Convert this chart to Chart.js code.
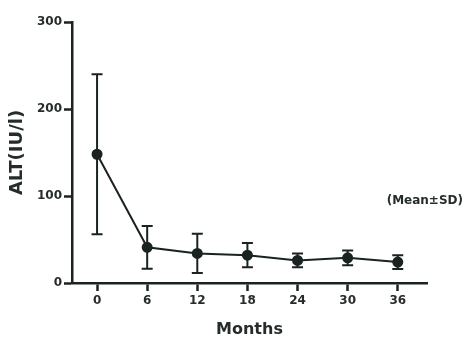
<!DOCTYPE html>
<html>
<head>
<meta charset="utf-8">
<script src="https://cdn.jsdelivr.net/npm/chart.js@4/dist/chart.umd.min.js"></script>
<style>
  html, body { margin: 0; padding: 0; background: #ffffff; }
  #wrap { width: 467px; height: 342px; }
</style>
</head>
<body>
<div id="wrap"><canvas id="c" width="467" height="342"></canvas></div>
<script>
const months = [0, 6, 12, 18, 24, 30, 36];
const altMean = [148, 41, 34, 32, 26, 29, 24];
const altSD = [92, 24.5, 22.5, 14, 8, 8.5, 8];
const xTicks = [0, 6, 12, 18, 24, 30, 36];
const yTicks = [0, 100, 200, 300];
const noteText = '(Mean\u00B1SD)';

const ink = '#1a2222';
const textInk = '#262b2b';

const errorBars = {
  id: 'errorBars',
  beforeDatasetsDraw(chart) {
    const ctx = chart.ctx;
    const xs = chart.scales.x, ys = chart.scales.y;
    ctx.save();
    ctx.strokeStyle = ink;
    ctx.lineWidth = 2;
    months.forEach((m, i) => {
      const px = xs.getPixelForValue(m);
      const top = ys.getPixelForValue(altMean[i] + altSD[i]);
      const bot = ys.getPixelForValue(Math.max(0, altMean[i] - altSD[i]));
      ctx.beginPath();
      ctx.moveTo(px, top); ctx.lineTo(px, bot);
      ctx.moveTo(px - 5.5, top); ctx.lineTo(px + 5.5, top);
      ctx.moveTo(px - 5.5, bot); ctx.lineTo(px + 5.5, bot);
      ctx.stroke();
    });
    ctx.restore();
  },
  afterDraw(chart) {
    const ctx = chart.ctx;
    const ys = chart.scales.y;
    ctx.save();
    ctx.font = 'bold 12px "DejaVu Sans"';
    ctx.fillStyle = textInk;
    ctx.textAlign = 'right';
    ctx.textBaseline = 'middle';
    ctx.fillText(noteText, chart.width - 4, ys.getPixelForValue(94));
    ctx.restore();
  }
};

new Chart(document.getElementById('c'), {
  type: 'line',
  data: {
    datasets: [{
      data: months.map((m, i) => ({ x: m, y: altMean[i] })),
      borderColor: ink,
      backgroundColor: ink,
      borderWidth: 2,
      pointRadius: 4.5,
      pointBackgroundColor: ink,
      pointBorderColor: ink,
      tension: 0
    }]
  },
  options: {
    responsive: false,
    animation: false,
    devicePixelRatio: 1,
    layout: { padding: { left: 0, right: 40, top: 22, bottom: 0 } },
    plugins: { legend: { display: false }, tooltip: { enabled: false } },
    scales: {
      x: {
        type: 'linear',
        min: -3,
        max: 39.5,
        afterBuildTicks: (s) => { s.ticks = xTicks.map(v => ({ value: v })); },
        afterFit: (s) => { s.height = 59; },
        border: { display: true, color: ink, width: 2.5 },
        grid: { drawOnChartArea: false, drawTicks: true, tickLength: 8, tickColor: ink, tickWidth: 2.5 },
        ticks: { color: textInk, padding: 3, font: { family: 'DejaVu Sans', weight: 'bold', size: 12 } },
        title: { display: true, text: 'Months', color: textInk, padding: { top: 0, bottom: 3 },
                 font: { family: 'DejaVu Sans', weight: 'bold', size: 16 } }
      },
      y: {
        type: 'linear',
        min: 0,
        max: 300,
        afterBuildTicks: (s) => { s.ticks = yTicks.map(v => ({ value: v })); },
        afterFit: (s) => { s.width = 72; },
        border: { display: true, color: ink, width: 2.5 },
        grid: { drawOnChartArea: false, drawTicks: true, tickLength: 8, tickColor: ink, tickWidth: 2.5 },
        ticks: { color: textInk, padding: 2, font: { family: 'DejaVu Sans', weight: 'bold', size: 12 } },
        title: { display: true, text: 'ALT(IU/l)', color: textInk, padding: { top: 7, bottom: 0 },
                 font: { family: 'DejaVu Sans', weight: 'bold', size: 18 } }
      }
    }
  },
  plugins: [errorBars]
});
</script>
</body>
</html>
